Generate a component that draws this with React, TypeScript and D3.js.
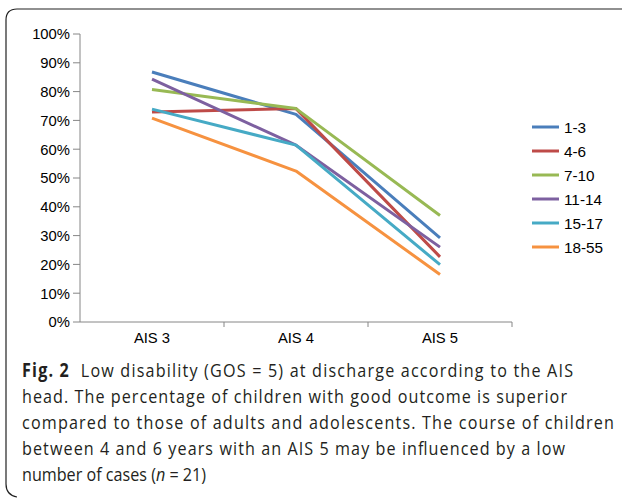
import React from "react";
import * as d3 from "d3";

const categories = ["AIS 3", "AIS 4", "AIS 5"];
const seriesNames = ["1-3", "4-6", "7-10", "11-14", "15-17", "18-55"];
const s1_3 = [86.8, 72.1, 29.2];
const s4_6 = [72.9, 74.1, 22.6];
const s7_10 = [80.7, 74.1, 37.0];
const s11_14 = [84.3, 61.4, 26.0];
const s15_17 = [73.9, 61.4, 19.9];
const s18_55 = [70.8, 52.4, 16.5];
const seriesValues = [s1_3, s4_6, s7_10, s11_14, s15_17, s18_55];
const yTicks = [0, 10, 20, 30, 40, 50, 60, 70, 80, 90, 100];
const colors = ["#4A7EBB", "#BE4B48", "#98B954", "#7D60A0", "#46AAC5", "#F69240"];

const captionLines = [
  { parts: [{ t: "Fig. 2", b: true }, { t: "  Low disability (GOS = 5) at discharge according to the AIS" }], w: 551 },
  { parts: [{ t: "head. The percentage of children with good outcome is superior" }], w: 545 },
  { parts: [{ t: "compared to those of adults and adolescents. The course of children" }], w: 592 },
  { parts: [{ t: "between 4 and 6 years with an AIS 5 may be influenced by a low" }], w: 543 },
  { parts: [{ t: "number of cases (" }, { t: "n", i: true }, { t: " = 21)" }], w: 0 },
];

export default function App() {
  const W = 622, H = 498;
  const x0 = 80, x1 = 512, yTop = 34, yBot = 322;
  const xBand = d3.scaleBand().domain(categories).range([x0, x1]);
  const y = d3.scaleLinear().domain([0, 100]).range([yBot, yTop]);
  const cx = (c: string) => (xBand(c) as number) + xBand.bandwidth() / 2;
  const line = d3
    .line<number>()
    .x((_, i) => cx(categories[i]))
    .y((v) => y(v));
  const axisColor = "#868686";
  const font = "'Liberation Sans', Arial, sans-serif";
  const capFont = "'Open Sans', 'Noto Sans', sans-serif";
  const legendY = d3.scalePoint().domain(seriesNames).range([127, 247]);
  const sx = 0.85;

  return (
    <svg width={W} height={H} style={{ position: "absolute", left: 0, top: 0 }}>
      <rect x={0} y={0} width={W} height={H} fill="#fff" />
      <path
        d={`M ${W} 9 L 17 9 Q 6 9 6 20 L 6 484 Q 6 495 17 497`}
        fill="none"
        stroke="#222"
        strokeWidth={1.2}
      />
      {/* y axis */}
      <line x1={x0} x2={x0} y1={yTop} y2={yBot} stroke={axisColor} strokeWidth={1} />
      {yTicks.map((t) => (
        <g key={t}>
          <line x1={x0 - 7} x2={x0} y1={y(t)} y2={y(t)} stroke={axisColor} />
          <text
            x={70}
            y={y(t)}
            dy="0.36em"
            textAnchor="end"
            fontFamily={font}
            fontSize={14.8}
            fill="#000"
          >
            {t}%
          </text>
        </g>
      ))}
      {/* x axis */}
      <line x1={x0} x2={x1} y1={yBot} y2={yBot} stroke={axisColor} strokeWidth={1} />
      {categories.map((c) => (
        <g key={c}>
          <line
            x1={(xBand(c) as number) + xBand.bandwidth()}
            x2={(xBand(c) as number) + xBand.bandwidth()}
            y1={yBot}
            y2={yBot + 5}
            stroke={axisColor}
          />
          <text x={cx(c)} y={343} textAnchor="middle" fontFamily={font} fontSize={14.8} fill="#000">
            {c}
          </text>
        </g>
      ))}
      {/* series */}
      {seriesValues.map((vals, i) => (
        <path
          key={seriesNames[i]}
          d={line(vals) as string}
          fill="none"
          stroke={colors[i]}
          strokeWidth={3}
          strokeLinejoin="round"
        />
      ))}
      {/* legend */}
      {seriesNames.map((n, i) => (
        <g key={n}>
          <line
            x1={532}
            x2={559}
            y1={legendY(n)}
            y2={legendY(n)}
            stroke={colors[i]}
            strokeWidth={3}
          />
          <text x={564} y={legendY(n)} dy="0.36em" fontFamily={font} fontSize={15.3} fill="#000">
            {n}
          </text>
        </g>
      ))}
      {/* caption */}
      <g transform={`translate(22,0) scale(${sx},1)`}>
        {captionLines.map((ln, i) => (
          <text
            key={i}
            x={0}
            y={377 + i * 26}
            fontFamily={capFont}
            fontSize={19}
            fill="#231f20"
            textLength={ln.w ? ln.w / sx : undefined}
            lengthAdjust={ln.w ? "spacing" : undefined}
            style={{ whiteSpace: "pre" }}
          >
            {ln.parts.map((p: any, j: number) => (
              <tspan key={j} fontWeight={p.b ? 700 : 400} fontStyle={p.i ? "italic" : "normal"}>
                {p.t}
              </tspan>
            ))}
          </text>
        ))}
      </g>
    </svg>
  );
}
